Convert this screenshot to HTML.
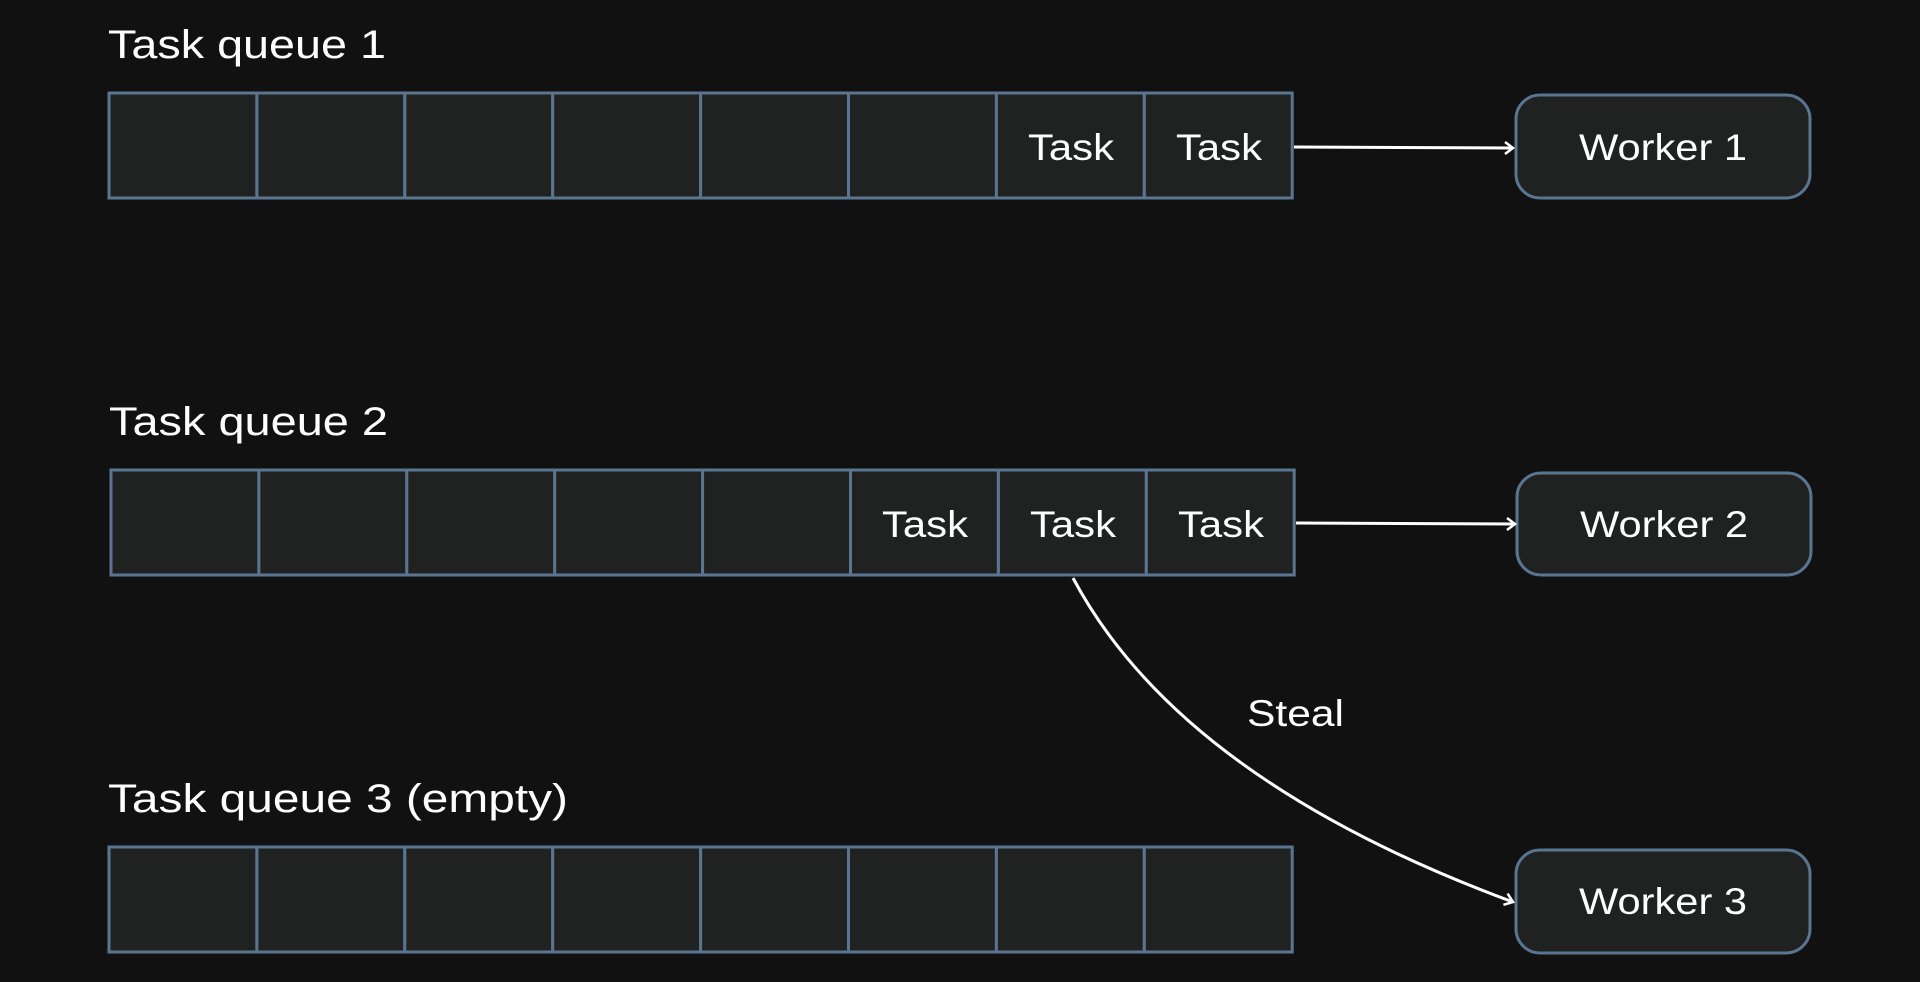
<!DOCTYPE html>
<html><head><style>
html,body{margin:0;padding:0;background:#111111;}
body{width:1920px;height:982px;overflow:hidden;position:relative;font-family:"Liberation Sans",sans-serif;color:#fff;}
</style></head><body>
<svg width="1920" height="982" viewBox="0 0 1920 982" xmlns="http://www.w3.org/2000/svg" style="position:absolute;left:0;top:0">
<defs>
<marker id="a" markerWidth="16" markerHeight="16" refX="11" refY="8" orient="auto" markerUnits="userSpaceOnUse">
<path d="M3,2 L11,8 L3,14" fill="none" stroke="#fff" stroke-width="2.5"/>
</marker>
</defs>
<g font-family="Liberation Sans, sans-serif" fill="#fff" lengthAdjust="spacingAndGlyphs">
<text x="108" y="58" font-size="40" textLength="278" lengthAdjust="spacingAndGlyphs">Task queue 1</text>
<text x="109" y="435" font-size="40" textLength="279" lengthAdjust="spacingAndGlyphs">Task queue 2</text>
<text x="108" y="812" font-size="40" textLength="460" lengthAdjust="spacingAndGlyphs">Task queue 3 (empty)</text>
</g>
<g fill="#202222" stroke="#5a7590" stroke-width="3">
<rect x="109" y="93" width="147.9" height="105"/><rect x="256.9" y="93" width="147.9" height="105"/><rect x="404.8" y="93" width="147.9" height="105"/><rect x="552.7" y="93" width="147.9" height="105"/><rect x="700.6" y="93" width="147.9" height="105"/><rect x="848.5" y="93" width="147.9" height="105"/><rect x="996.4" y="93" width="147.9" height="105"/><rect x="1144.3" y="93" width="147.9" height="105"/>
<rect x="111" y="470" width="147.9" height="105"/><rect x="258.9" y="470" width="147.9" height="105"/><rect x="406.8" y="470" width="147.9" height="105"/><rect x="554.7" y="470" width="147.9" height="105"/><rect x="702.6" y="470" width="147.9" height="105"/><rect x="850.5" y="470" width="147.9" height="105"/><rect x="998.4" y="470" width="147.9" height="105"/><rect x="1146.3" y="470" width="147.9" height="105"/>
<rect x="109" y="847" width="147.9" height="105"/><rect x="256.9" y="847" width="147.9" height="105"/><rect x="404.8" y="847" width="147.9" height="105"/><rect x="552.7" y="847" width="147.9" height="105"/><rect x="700.6" y="847" width="147.9" height="105"/><rect x="848.5" y="847" width="147.9" height="105"/><rect x="996.4" y="847" width="147.9" height="105"/><rect x="1144.3" y="847" width="147.9" height="105"/>
<rect x="1516" y="95" width="294" height="103" rx="24"/>
<rect x="1517" y="473" width="294" height="102" rx="24"/>
<rect x="1516" y="850" width="294" height="103" rx="24"/>
</g>
<g font-family="Liberation Sans, sans-serif" fill="#fff" font-size="37">
<text x="1028" y="160" textLength="86" lengthAdjust="spacingAndGlyphs">Task</text><text x="1176" y="160" textLength="86" lengthAdjust="spacingAndGlyphs">Task</text>
<text x="882" y="537" textLength="86" lengthAdjust="spacingAndGlyphs">Task</text><text x="1030" y="537" textLength="86" lengthAdjust="spacingAndGlyphs">Task</text><text x="1178" y="537" textLength="86" lengthAdjust="spacingAndGlyphs">Task</text>
<text x="1579" y="160" textLength="168" lengthAdjust="spacingAndGlyphs">Worker 1</text>
<text x="1580" y="537" textLength="168" lengthAdjust="spacingAndGlyphs">Worker 2</text>
<text x="1579" y="914" textLength="168" lengthAdjust="spacingAndGlyphs">Worker 3</text>
<text x="1247" y="726" textLength="97" lengthAdjust="spacingAndGlyphs">Steal</text>
</g>
<g stroke="#fff" stroke-width="3" fill="none" marker-end="url(#a)">
<path d="M1294,147 L1513,148"/>
<path d="M1296,523 L1515,524"/>
<path d="M1073,578 Q1180,779 1513,902"/>
</g>
</svg>
</body></html>
